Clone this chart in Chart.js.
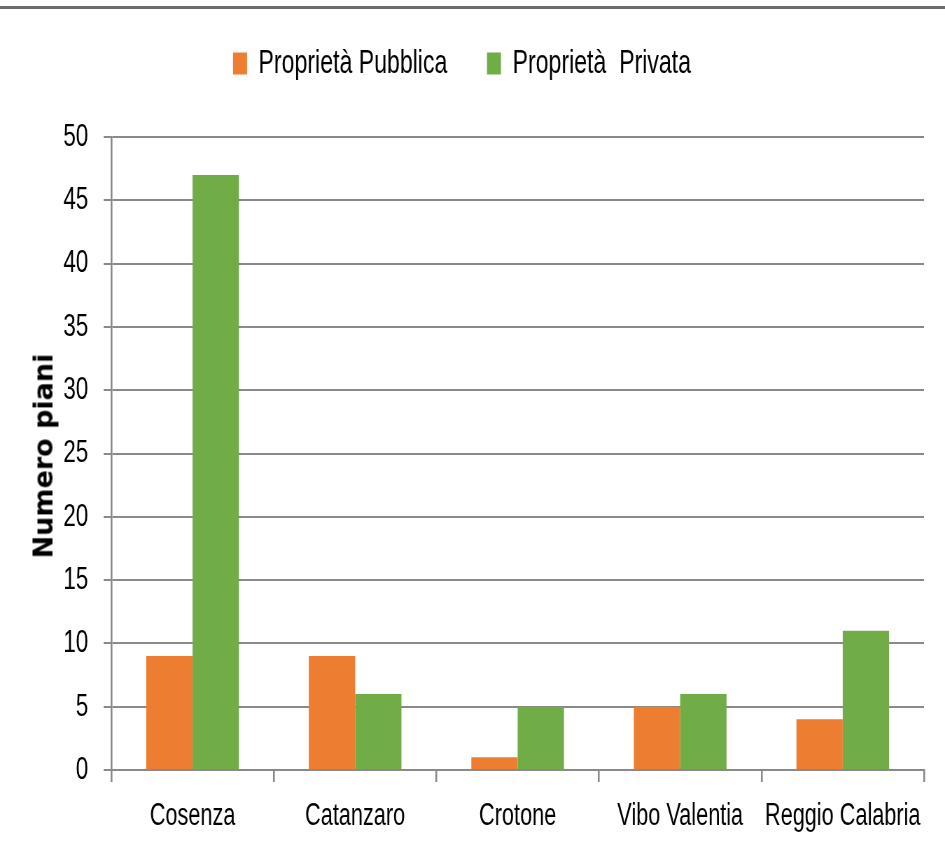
<!DOCTYPE html>
<html>
<head>
<meta charset="utf-8">
<script src="https://cdn.jsdelivr.net/npm/chart.js@4/dist/chart.umd.min.js"></script>
<style>
  html, body { margin: 0; padding: 0; background: #fff; }
  #wrap { position: relative; width: 945px; height: 860px; overflow: hidden; }
  /* il grafico originale ha caratteri stretti e alti: si disegna largo e si comprime in orizzontale */
  #myChart { position: absolute; left: 0; top: 0; transform: scaleX(0.7); transform-origin: 0 0; }
  #topline { position: absolute; left: 0; top: 6px; width: 945px; height: 3px; background: #6b6b6b; }
  #ytitle {
    position: absolute; left: 43px; top: 456px;
    transform: translate(-50%, -50%) rotate(-90deg);
    font: bold 27px 'DejaVu Sans', sans-serif; color: #000; white-space: nowrap;
  }
</style>
</head>
<body>
<div id="wrap">
  <canvas id="myChart" width="1350" height="860"></canvas>
  <div id="topline"></div>
  <div id="ytitle">Numero piani</div>
</div>
<script>
const ctx = document.getElementById('myChart');

// dati
const province = ['Cosenza', 'Catanzaro', 'Crotone', 'Vibo Valentia', 'Reggio Calabria'];
const pubblica = [9, 9, 1, 5, 4];
const privata = [47, 6, 5, 6, 11];
const yTicks = [0, 5, 10, 15, 20, 25, 30, 35, 40, 45, 50];

const fontFam = "'Liberation Sans', Arial, sans-serif";
const gridCol = '#898989';

// spazio vuoto tra legenda e area del grafico
const spacer = {
  id: 'spacer',
  beforeInit(chart) {
    Chart.layouts.addBox(chart, {
      position: 'top',
      weight: 500,
      fullSize: true,
      options: {},
      width: 0, height: 0, top: 0, left: 0, right: 0, bottom: 0,
      isHorizontal() { return true; },
      update(maxWidth) { this.width = maxWidth; this.height = 47; },
      draw() {}
    });
  }
};

let t = {
  type: 'bar',
  data: {
    labels: province,
    datasets: [
      {
        label: 'Proprietà Pubblica    ',
        data: pubblica,
        backgroundColor: '#ED7D31',
        categoryPercentage: 0.57,
        barPercentage: 1
      },
      {
        label: 'Proprietà  Privata',
        data: privata,
        backgroundColor: '#70AD47',
        categoryPercentage: 0.57,
        barPercentage: 1
      }
    ]
  },
  options: {
    responsive: false,
    animation: false,
    layout: {
      padding: { top: 27, right: 30, bottom: 0, left: 0 }
    },
    plugins: {
      tooltip: { enabled: false },
      legend: {
        position: 'top',
        labels: {
          boxWidth: 20,
          boxHeight: 22,
          padding: 20,
          color: '#000',
          font: { family: fontFam, size: 33 }
        }
      }
    },
    scales: {
      x: {
        offset: true,
        grid: {
          display: true,
          offset: true,
          drawOnChartArea: false,
          tickLength: 12,
          color: gridCol,
          lineWidth: 2.6
        },
        border: { display: true, color: gridCol, width: 2 },
        ticks: {
          color: '#000',
          padding: 16,
          maxRotation: 0,
          autoSkip: false,
          font: { family: fontFam, size: 31 }
        },
        afterFit: (scale) => { scale.height = 90; }
      },
      y: {
        min: 0,
        max: 50,
        afterBuildTicks: (scale) => { scale.ticks = yTicks.map(v => ({ value: v })); },
        grid: {
          color: gridCol,
          lineWidth: 2,
          tickLength: 11
        },
        border: { display: true, color: gridCol, width: 2.6 },
        ticks: {
          color: '#000',
          padding: 22,
          font: { family: fontFam, size: 32 }
        },
        afterFit: (scale) => { scale.width = 159; }
      }
    }
  },
  plugins: [spacer]
};

let cc = new Chart(ctx, t);
</script>
</body>
</html>
